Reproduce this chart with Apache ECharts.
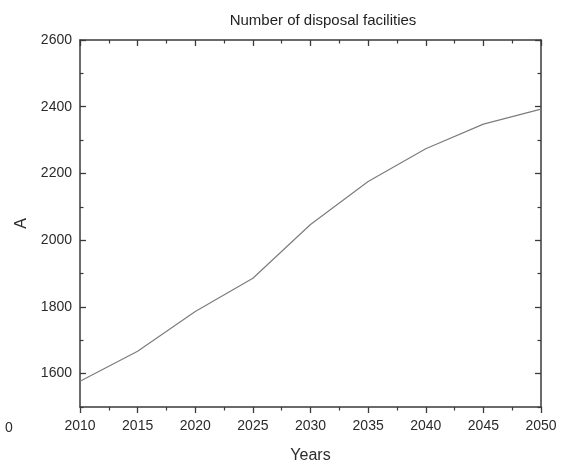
<!DOCTYPE html>
<html>
<head>
<meta charset="utf-8">
<script src="https://cdn.jsdelivr.net/npm/echarts@6/dist/echarts.min.js"></script>
<style>
  html, body { margin: 0; padding: 0; background: #fff; }
  #chart { width: 561px; height: 469px; }
</style>
</head>
<body>
<div id="chart"></div>
<script>
// Projected number of disposal facilities, 2010–2050
const years = [2010, 2015, 2020, 2025, 2030, 2035, 2040, 2045, 2050];
const facilities = [1577, 1667, 1786, 1886, 2047, 2176, 2274, 2348, 2393];

const yMajorTicks = [1600, 1800, 2000, 2200, 2400, 2600];
const yMinorTicks = [1500, 1700, 1900, 2100, 2300, 2500];

const FONT = 'Liberation Sans, Arial, sans-serif';
const AXIS_COLOR = '#3a3a3a';
const TEXT_COLOR = '#2b2b2b';

const chart = echarts.init(document.getElementById('chart'), null, { renderer: 'canvas' });

const frameLine = { show: true, lineStyle: { color: AXIS_COLOR, width: 1.5 } };
const yBase = { type: 'value', min: 1500, max: 2600, interval: 100, splitLine: { show: false } };

chart.setOption({
  animation: false,
  backgroundColor: '#ffffff',
  title: {
    text: 'Number of disposal facilities',
    left: 318,
    top: 8,
    textAlign: 'center',
    textStyle: { fontFamily: FONT, fontSize: 15, fontWeight: 'normal', color: '#1e1e1e' }
  },
  grid: { left: 80, right: 20, top: 40, bottom: 60, containLabel: false },
  xAxis: [
    {
      type: 'value', position: 'bottom', min: 2010, max: 2050, interval: 5,
      name: 'Years', nameLocation: 'middle', nameGap: 41,
      nameTextStyle: { fontFamily: FONT, fontSize: 16, color: TEXT_COLOR },
      axisLine: frameLine,
      axisTick: { show: true, inside: false, length: 6, lineStyle: { color: AXIS_COLOR, width: 1.3 } },
      minorTick: { show: true, splitNumber: 2, length: 3.5, lineStyle: { color: AXIS_COLOR, width: 1.2 } },
      axisLabel: { fontFamily: FONT, fontSize: 14, color: TEXT_COLOR, margin: 12, formatter: v => String(v) },
      splitLine: { show: false }
    },
    {
      type: 'value', position: 'top', min: 2010, max: 2050, interval: 5,
      axisLine: frameLine,
      axisTick: { show: true, inside: true, length: 6, lineStyle: { color: AXIS_COLOR, width: 1.3 } },
      minorTick: { show: true, splitNumber: 2, length: 3.5, lineStyle: { color: AXIS_COLOR, width: 1.2 } },
      axisLabel: { show: false },
      splitLine: { show: false }
    }
  ],
  yAxis: [
    Object.assign({}, yBase, {
      position: 'left',
      name: 'A', nameLocation: 'middle', nameGap: 50,
      nameTextStyle: { fontFamily: FONT, fontSize: 16, color: TEXT_COLOR },
      axisLine: frameLine,
      axisTick: { show: true, inside: true, length: 6, customValues: yMajorTicks,
                  lineStyle: { color: AXIS_COLOR, width: 1.3 } },
      axisLabel: { fontFamily: FONT, fontSize: 14, color: TEXT_COLOR, margin: 8,
                   customValues: yMajorTicks, formatter: v => String(v) }
    }),
    Object.assign({}, yBase, {
      position: 'left',
      axisLine: { show: false },
      axisTick: { show: true, inside: true, length: 3.5, customValues: yMinorTicks,
                  lineStyle: { color: AXIS_COLOR, width: 1.2 } },
      axisLabel: { show: false }
    }),
    Object.assign({}, yBase, {
      position: 'right',
      axisLine: frameLine,
      axisTick: { show: true, inside: true, length: 6, customValues: yMajorTicks,
                  lineStyle: { color: AXIS_COLOR, width: 1.3 } },
      axisLabel: { show: false }
    }),
    Object.assign({}, yBase, {
      position: 'right',
      axisLine: { show: false },
      axisTick: { show: true, inside: true, length: 3.5, customValues: yMinorTicks,
                  lineStyle: { color: AXIS_COLOR, width: 1.2 } },
      axisLabel: { show: false }
    })
  ],
  graphic: [
    {
      type: 'text', left: 5, top: 421,
      style: { text: '0', font: '14px ' + FONT, fill: TEXT_COLOR }
    }
  ],
  series: [
    {
      type: 'line',
      xAxisIndex: 0,
      yAxisIndex: 0,
      data: years.map((y, i) => [y, facilities[i]]),
      showSymbol: false,
      lineStyle: { color: '#7d7d7d', width: 1.2 }
    }
  ]
});
</script>
</body>
</html>
